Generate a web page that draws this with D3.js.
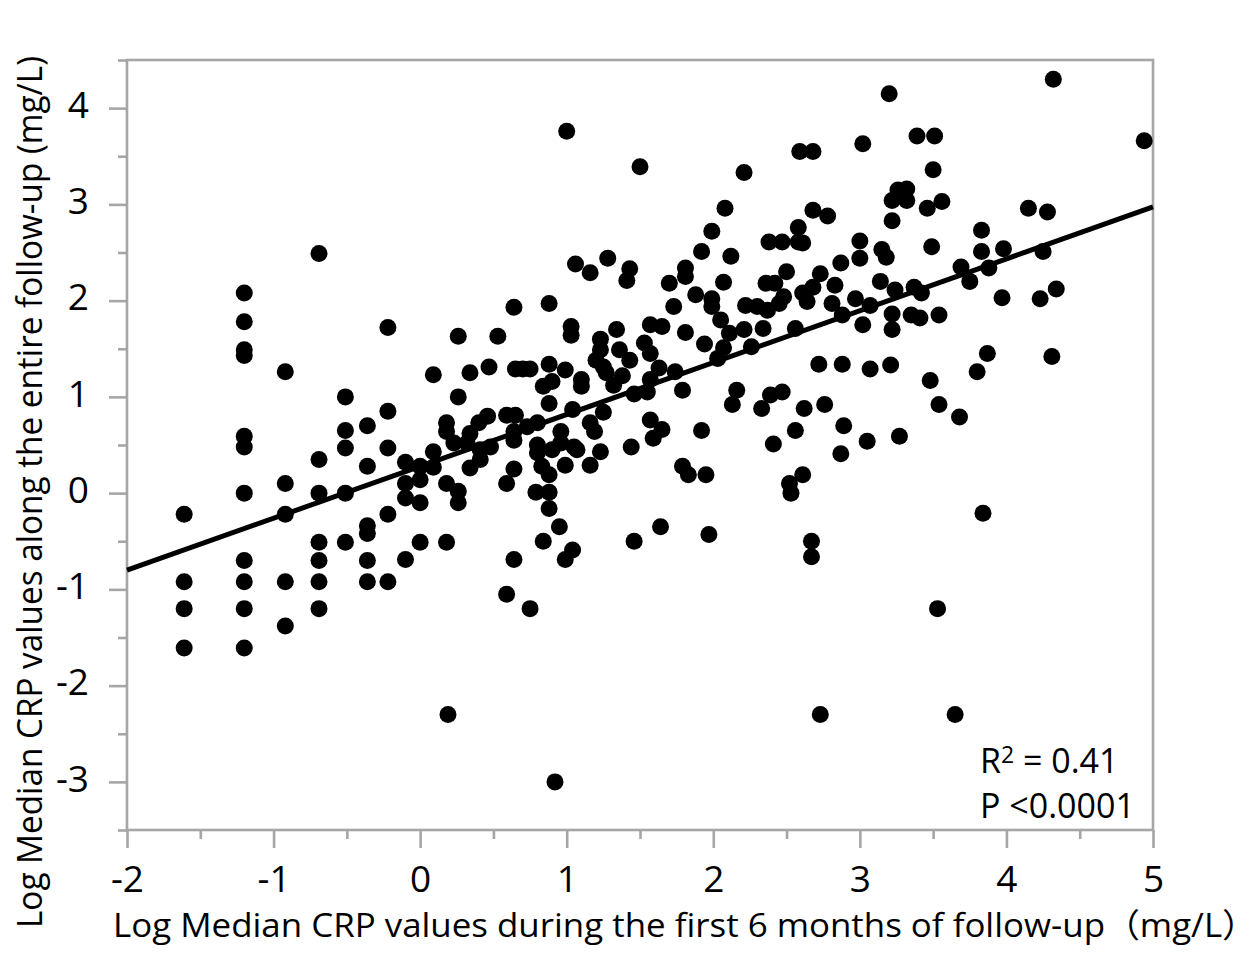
<!DOCTYPE html>
<html>
<head>
<meta charset="utf-8">
<script src="https://cdn.jsdelivr.net/npm/d3@7"></script>
<style>
  html, body { margin: 0; padding: 0; background: #fff; }
  svg { display: block; }
  text { font-family: "Open Sans", "Noto Sans CJK JP", sans-serif; fill: #000; }
</style>
</head>
<body>
<svg id="chart" width="1253" height="953"></svg>
<script>
// ---- data ----
const xDomain = [-2, 5];
const yDomain = [-3.5, 4.5];
const xTickValues = [-2, -1, 0, 1, 2, 3, 4, 5];
const yTickValues = [-3, -2, -1, 0, 1, 2, 3, 4];
const xTitle = "Log Median CRP values during the first 6 months of follow-up\uFF08mg/L\uFF09";
const yTitle = "Log Median CRP values along the entire follow-up (mg/L)";
const regression = { slope: 0.539, intercept: 0.278 };
const statsLines = ["R2 = 0.41", "P <0.0001"];

// [log median CRP first 6 months, log median CRP entire follow-up]
const points = [
[-1.61,-0.22],[-1.61,-0.92],[-1.61,-1.20],[-1.61,-1.61],
[-1.20,2.08],[-1.20,1.78],[-1.20,1.49],[-1.20,1.43],[-1.20,0.59],[-1.20,0.48],[-1.20,0.00],[-1.20,-0.70],[-1.20,-0.92],[-1.20,-1.20],[-1.20,-1.61],
[-0.92,1.26],[-0.92,0.10],[-0.92,-0.22],[-0.92,-0.92],[-0.92,-1.38],
[-0.69,2.49],[-0.69,0.35],[-0.69,0.00],[-0.69,-0.51],[-0.69,-0.70],[-0.69,-0.92],[-0.69,-1.20],
[-0.51,1.00],[-0.51,0.65],[-0.51,0.47],[-0.51,0.00],[-0.51,-0.51],
[-0.36,0.70],[-0.36,0.28],[-0.36,-0.34],[-0.36,-0.42],[-0.36,-0.70],[-0.36,-0.92],
[-0.22,1.72],[-0.22,0.85],[-0.22,0.47],[-0.22,-0.22],[-0.22,-0.92],
[-0.10,0.32],[-0.10,0.10],[-0.10,-0.05],[-0.10,-0.69],
[0.00,0.28],[0.00,0.14],[0.00,-0.10],[0.00,-0.51],
[0.09,1.23],[0.09,0.43],[0.09,0.27],
[0.18,0.73],[0.18,0.64],[0.18,0.10],[0.18,-0.51],[0.19,-2.30],
[0.23,0.52],
[0.26,1.63],[0.26,1.00],[0.26,0.02],[0.26,-0.10],
[0.34,1.25],[0.34,0.62],[0.32,0.52],[0.34,0.26],
[0.40,0.73],[0.41,0.45],[0.41,0.35],
[0.46,0.80],[0.47,1.31],[0.48,0.48],
[0.53,1.63],
[0.59,0.81],[0.59,0.10],[0.59,-1.05],
[0.64,1.93],[0.65,0.81],[0.64,0.64],[0.64,0.55],[0.64,0.25],[0.64,-0.69],[0.65,1.29],
[0.70,1.29],[0.73,0.69],[0.75,1.29],[0.75,-1.20],
[0.80,0.73],[0.80,0.50],[0.80,0.42],[0.79,0.01],
[0.84,1.11],[0.83,0.28],[0.84,-0.50],
[0.88,1.97],[0.88,1.34],[0.90,1.16],[0.88,0.93],[0.90,0.45],[0.88,0.19],[0.88,0.01],[0.88,-0.16],
[0.92,-3.00],
[0.96,0.64],[0.96,0.52],[0.95,-0.35],
[1.00,3.76],[0.99,1.28],[0.99,0.29],[0.99,-0.69],
[1.06,2.38],[1.03,1.73],[1.03,1.64],[1.04,0.87],[1.05,0.48],[1.07,0.45],[1.04,-0.59],
[1.10,1.18],[1.10,1.11],
[1.16,2.29],[1.16,0.73],[1.16,0.29],
[1.19,0.64],[1.20,1.38],
[1.23,1.60],[1.23,1.49],[1.25,1.31],[1.27,1.25],[1.25,0.84],[1.23,0.43],[1.28,2.44],
[1.34,1.70],[1.36,1.49],[1.38,1.22],[1.32,1.12],
[1.43,2.33],[1.41,2.21],[1.43,1.38],[1.46,1.03],[1.44,0.48],[1.46,-0.50],
[1.50,3.39],[1.53,1.56],
[1.57,1.45],[1.57,1.75],[1.57,1.18],[1.55,1.05],[1.57,0.76],[1.59,0.57],
[1.65,1.73],[1.63,1.30],[1.65,0.66],[1.64,-0.35],
[1.70,2.18],[1.73,1.94],[1.74,1.26],
[1.81,2.34],[1.81,2.25],[1.81,1.67],[1.79,1.07],[1.79,0.28],[1.83,0.19],
[1.88,2.06],[1.92,2.51],[1.92,0.65],
[1.94,1.55],[1.99,2.72],[1.99,2.02],[1.99,1.94],[1.95,0.19],[1.97,-0.43],
[2.08,2.96],[2.07,2.19],[2.05,1.80],[2.07,1.51],[2.03,1.40],
[2.12,2.46],[2.11,1.66],[2.16,1.07],[2.13,0.92],
[2.21,3.33],[2.22,1.95],[2.21,1.70],[2.26,1.52],
[2.30,1.94],[2.34,1.71],[2.33,0.88],
[2.36,2.18],[2.38,2.61],[2.37,1.90],[2.42,2.18],[2.39,1.02],[2.41,0.51],
[2.47,2.61],[2.50,2.30],[2.48,2.04],[2.45,1.97],[2.47,1.05],[2.52,0.10],[2.53,0.00],
[2.59,3.55],[2.58,2.76],[2.58,2.61],[2.61,2.60],[2.61,2.08],[2.64,1.99],[2.56,1.71],[2.56,0.65],[2.62,0.88],[2.61,0.19],
[2.68,3.55],[2.68,2.94],[2.68,2.14],[2.67,-0.50],[2.67,-0.66],
[2.73,2.28],[2.72,1.34],[2.76,0.92],[2.78,2.88],[2.73,-2.30],
[2.83,2.16],[2.81,1.97],[2.87,2.39],[2.88,1.85],[2.88,1.34],[2.89,0.70],[2.87,0.41],
[3.02,3.63],[3.00,2.62],[3.00,2.44],[2.97,2.02],[3.07,1.95],[3.02,1.75],[3.07,1.29],[3.05,0.54],
[3.15,2.53],[3.18,2.45],[3.14,2.20],
[3.20,4.15],[3.26,3.15],[3.22,3.04],[3.32,3.16],[3.32,3.04],[3.22,2.83],[3.24,2.11],[3.22,1.86],[3.22,1.70],[3.21,1.33],[3.27,0.59],
[3.37,2.14],[3.42,2.08],[3.35,1.85],[3.41,1.82],[3.39,3.71],
[3.51,3.71],[3.50,3.36],[3.56,3.03],[3.46,2.96],[3.49,2.56],[3.54,1.85],[3.48,1.17],[3.54,0.92],[3.53,-1.20],
[3.69,2.35],[3.68,0.79],[3.65,-2.30],
[3.75,2.20],[3.83,2.73],[3.83,2.51],[3.88,2.34],[3.87,1.45],[3.80,1.26],[3.84,-0.21],
[3.98,2.54],[3.97,2.03],
[4.15,2.96],[4.28,2.92],[4.25,2.51],[4.23,2.02],[4.34,2.12],[4.31,1.42],[4.32,4.30],
[4.94,3.66]
];

// ---- layout ----
const plot = { left: 127, right: 1153, top: 60, bottom: 830 };
const axisColor = "#a6a6a6";
const axisWidth = 2.6;

const svg = d3.select("#chart");
const x = d3.scaleLinear().domain(xDomain).range([plot.left, plot.right]);
const y = d3.scaleLinear().domain(yDomain).range([plot.bottom, plot.top]);

const halfTicks = (dom) => d3.range(dom[0] * 2, dom[1] * 2 + 0.5).map(v => v / 2).filter(v => !Number.isInteger(v));

// minor ticks
svg.append("g").attr("transform", `translate(0,${plot.bottom})`)
  .call(d3.axisBottom(x).tickValues(halfTicks(xDomain)).tickSize(9).tickSizeOuter(0).tickFormat(""))
  .call(g => g.select(".domain").remove());
svg.append("g").attr("transform", `translate(${plot.left},0)`)
  .call(d3.axisLeft(y).tickValues(halfTicks(yDomain)).tickSize(9).tickSizeOuter(0).tickFormat(""))
  .call(g => g.select(".domain").remove());

// major ticks + labels
const xAxis = svg.append("g").attr("transform", `translate(0,${plot.bottom})`)
  .call(d3.axisBottom(x).tickValues(xTickValues).tickSize(18).tickSizeOuter(0).tickPadding(18).tickFormat(d => String(d)));
xAxis.select(".domain").remove();
const yAxis = svg.append("g").attr("transform", `translate(${plot.left},0)`)
  .call(d3.axisLeft(y).tickValues(yTickValues).tickSize(18).tickSizeOuter(0).tickPadding(20).tickFormat(d => String(d)));
yAxis.select(".domain").remove();
yAxis.selectAll("text").attr("dy", "0.25em");

svg.selectAll(".tick line").attr("stroke", axisColor).attr("stroke-width", axisWidth);
svg.selectAll(".tick text").style("font-size", "37px").attr("fill", "#000");

// plot frame
svg.append("rect")
  .attr("x", plot.left).attr("y", plot.top)
  .attr("width", plot.right - plot.left).attr("height", plot.bottom - plot.top)
  .attr("fill", "none").attr("stroke", axisColor).attr("stroke-width", axisWidth);

// regression line
const line = d3.line().x(d => x(d)).y(d => y(regression.intercept + regression.slope * d));
svg.append("path")
  .datum(xDomain)
  .attr("d", line)
  .attr("fill", "none").attr("stroke", "#000").attr("stroke-width", 5);

// points
svg.append("g").selectAll("circle")
  .data(points).join("circle")
  .attr("cx", d => x(d[0])).attr("cy", d => y(d[1]))
  .attr("r", 8.5).attr("fill", "#000");

// stats annotation
const st = svg.append("text").attr("x", 980).attr("y", 773).style("font-size", "34px");
st.append("tspan").text("R");
st.append("tspan").text("2").attr("dy", "-0.45em").style("font-size", "23px");
st.append("tspan").text(" = 0.41").attr("dy", "0.3em");
svg.append("text").attr("x", 980).attr("y", 818).style("font-size", "34px").text(statsLines[1]);

// axis titles
svg.append("text")
  .attr("x", 685).attr("y", 937)
  .attr("text-anchor", "middle")
  .attr("textLength", 1144).attr("lengthAdjust", "spacingAndGlyphs")
  .style("font-size", "33px")
  .text(xTitle);

svg.append("text")
  .attr("transform", `translate(42,492) rotate(-90)`)
  .attr("text-anchor", "middle")
  .attr("textLength", 872).attr("lengthAdjust", "spacingAndGlyphs")
  .style("font-size", "34px")
  .text(yTitle);
</script>
</body>
</html>
